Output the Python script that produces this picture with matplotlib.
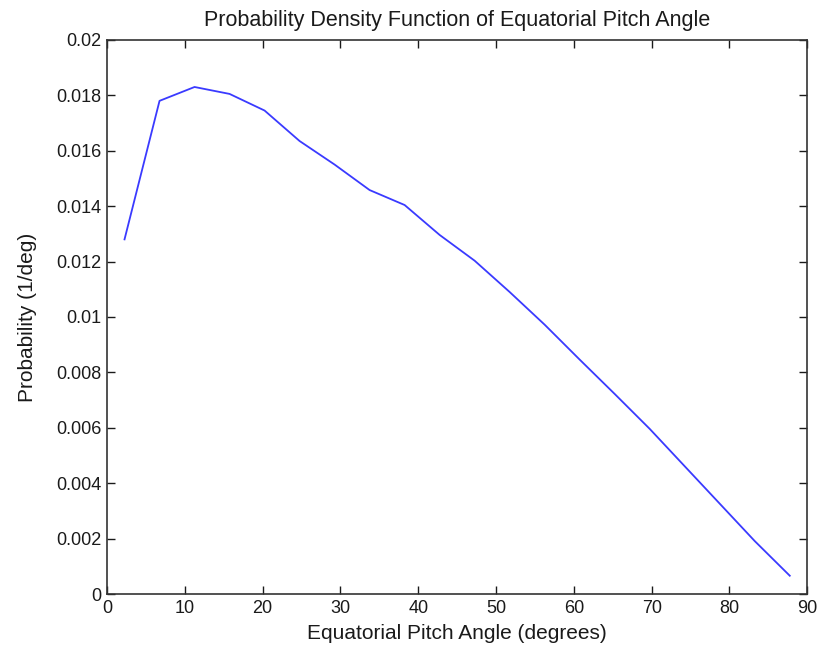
import matplotlib
matplotlib.use("Agg")
import matplotlib.pyplot as plt

# Data
pitch_angle_deg = [2.25, 6.75, 11.25, 15.75, 20.25, 24.75, 29.25, 33.75, 38.25, 42.75,
                   47.25, 51.75, 56.25, 60.75, 65.25, 69.75, 74.25, 78.75, 83.25, 87.75]
probability = [0.0128, 0.0178, 0.0183, 0.01805, 0.01745, 0.01635, 0.0155, 0.01458, 0.01404, 0.01296,
               0.01203, 0.01090, 0.00972, 0.00846, 0.00722, 0.00596, 0.00461, 0.00326, 0.00191, 0.00066]

x_ticks = [0, 10, 20, 30, 40, 50, 60, 70, 80, 90]
y_ticks = [0, 0.002, 0.004, 0.006, 0.008, 0.01, 0.012, 0.014, 0.016, 0.018, 0.02]
y_tick_labels = ["0", "0.002", "0.004", "0.006", "0.008", "0.01", "0.012", "0.014", "0.016", "0.018", "0.02"]

plt.rcParams['font.family'] = ['Liberation Sans', 'DejaVu Sans']

fig = plt.figure(figsize=(8.2, 6.55), dpi=100)
ax = fig.add_axes([0.1305, 0.0931, 0.854, 0.846])

ax.plot(pitch_angle_deg, probability, color='#3a3aff', linewidth=1.3)

ax.set_xlim(0, 90)
ax.set_ylim(0, 0.02)
ax.set_xticks(x_ticks)
ax.set_xticklabels([str(t) for t in x_ticks])
ax.set_yticks(y_ticks)
ax.set_yticklabels(y_tick_labels)

ax.tick_params(direction='in', top=True, right=True, length=6, width=1,
               labelsize=13, colors='#1a1a1a', pad=4)
for s in ax.spines.values():
    s.set_color('#333333')
    s.set_linewidth(1.2)

ax.set_title("Probability Density Function of Equatorial Pitch Angle", fontsize=15.5,
             color='#1a1a1a', pad=10)
ax.set_xlabel("Equatorial Pitch Angle (degrees)", fontsize=15, color='#1a1a1a', labelpad=5)
ax.set_ylabel("Probability (1/deg)", fontsize=15, color='#1a1a1a', labelpad=14)

fig.savefig("out.png", dpi=100)
